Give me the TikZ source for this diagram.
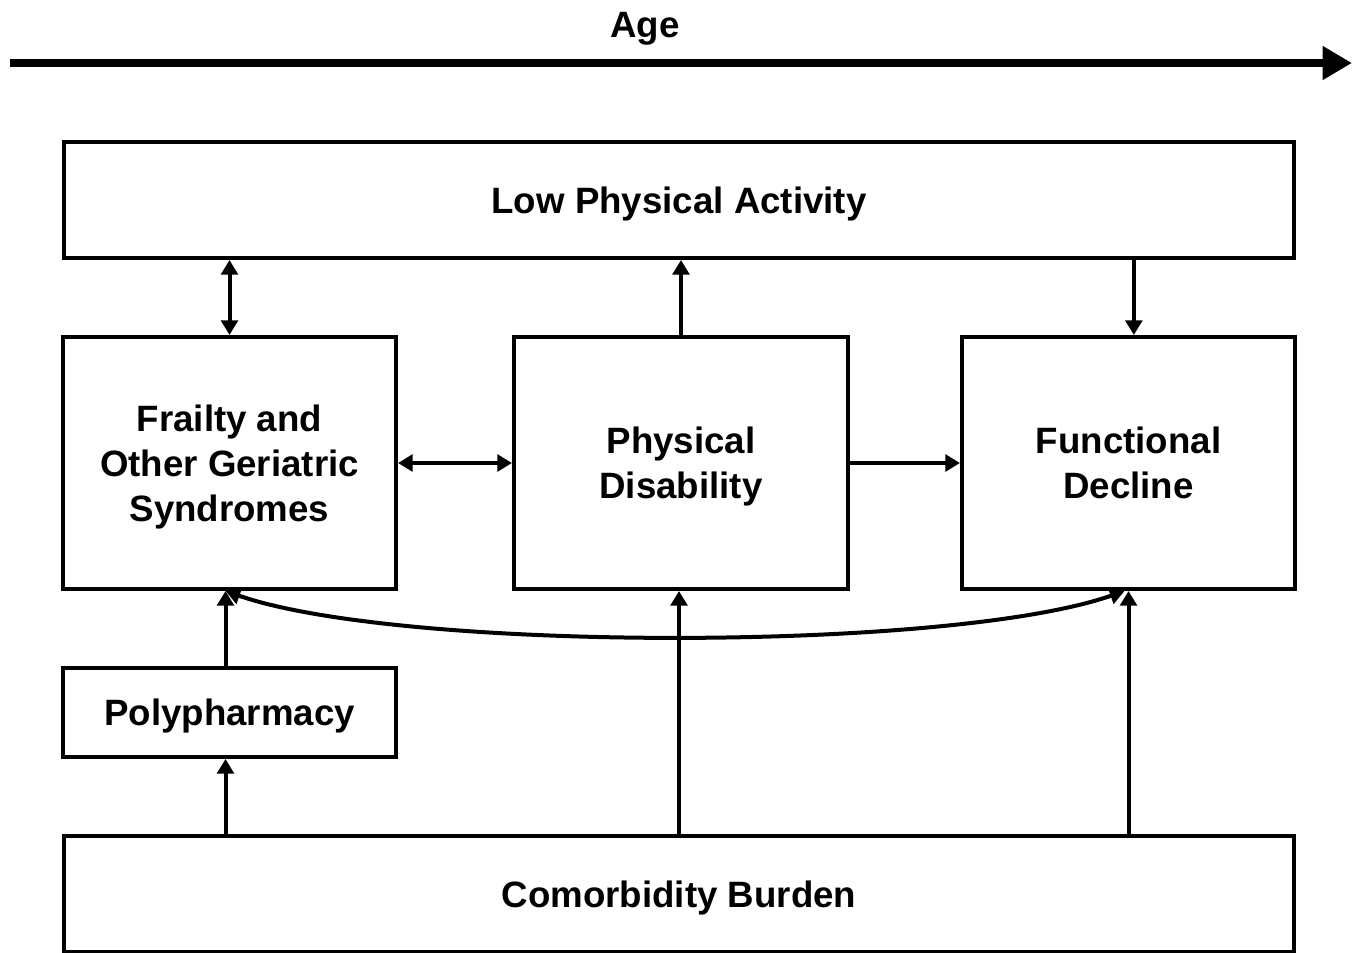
\documentclass[tikz,border=0pt]{standalone}
\usepackage{fontspec}
\setmainfont{Liberation Sans}
\usetikzlibrary{arrows.meta}

\tikzset{
  box/.style={draw, line width=3pt, align=center, inner sep=0pt, text depth=0pt,
    font=\fontsize{27.5}{33.75}\selectfont\bfseries},
  arr/.style={line width=3pt, -{Triangle[length=11pt,width=12.5pt]}},
  darr/.style={line width=3pt, {Triangle[length=11pt,width=12.5pt]}-{Triangle[length=11pt,width=12.5pt]}},
}

\begin{document}
\begin{tikzpicture}[x=0.75pt,y=0.75pt,yscale=-1,xscale=1]
\useasboundingbox (0,0) rectangle (1358,952);

%Age axis
\coordinate (agestart) at (10,63);
\coordinate (ageend) at (1352,63);
\draw [line width=6pt, -{Triangle[length=22pt,width=24pt]}] (agestart) -- (ageend);
% Text Node
\draw (645,25) node [text depth=0pt, font=\fontsize{27.5}{33.75}\selectfont\bfseries] (age) {Age};

%Boxes
\draw (679,200) node [box, minimum width=923pt, minimum height=87pt] (lpa) {Low Physical Activity};
\draw (229.5,463) node [box, minimum width=249.75pt, minimum height=189pt] (frail) {Frailty and\\Other Geriatric\\Syndromes};
\draw (681,463) node [box, minimum width=250.5pt, minimum height=189pt] (pd) {Physical\\Disability};
\draw (1128.5,463) node [box, minimum width=249.75pt, minimum height=189pt] (fd) {Functional\\Decline};
\draw (229.5,712.5) node [box, minimum width=249.75pt, minimum height=66.75pt] (poly) {Polypharmacy};
\draw (679,894) node [box, minimum width=923pt, minimum height=87pt] (cb) {Comorbidity Burden};

%Arrows between boxes
\draw [darr] (lpa.south -| frail.north) -- (frail.north);
\draw [arr] (pd.north) -- (lpa.south -| pd.north);
\draw [arr] ([xshift=4pt]lpa.south -| fd.north) -- ([xshift=4pt]fd.north);
\draw [darr] (frail.east) -- (pd.west);
\draw [arr] (pd.east) -- (fd.west);
\draw [darr] ([xshift=-3pt]frail.south) .. controls (400,652) and (950,652) .. ([xshift=-3pt]fd.south);

%Arrows from below
\draw [arr] ([xshift=-3pt]poly.north) -- ([xshift=-3pt]frail.south);
\draw [arr] ([xshift=-3pt]cb.north -| poly.south) -- ([xshift=-3pt]poly.south);
\draw [arr] (cb.north) -- (cb.north |- pd.south);
\draw [arr] (cb.north -| fd.south) -- (fd.south);
\end{tikzpicture}
\end{document}
